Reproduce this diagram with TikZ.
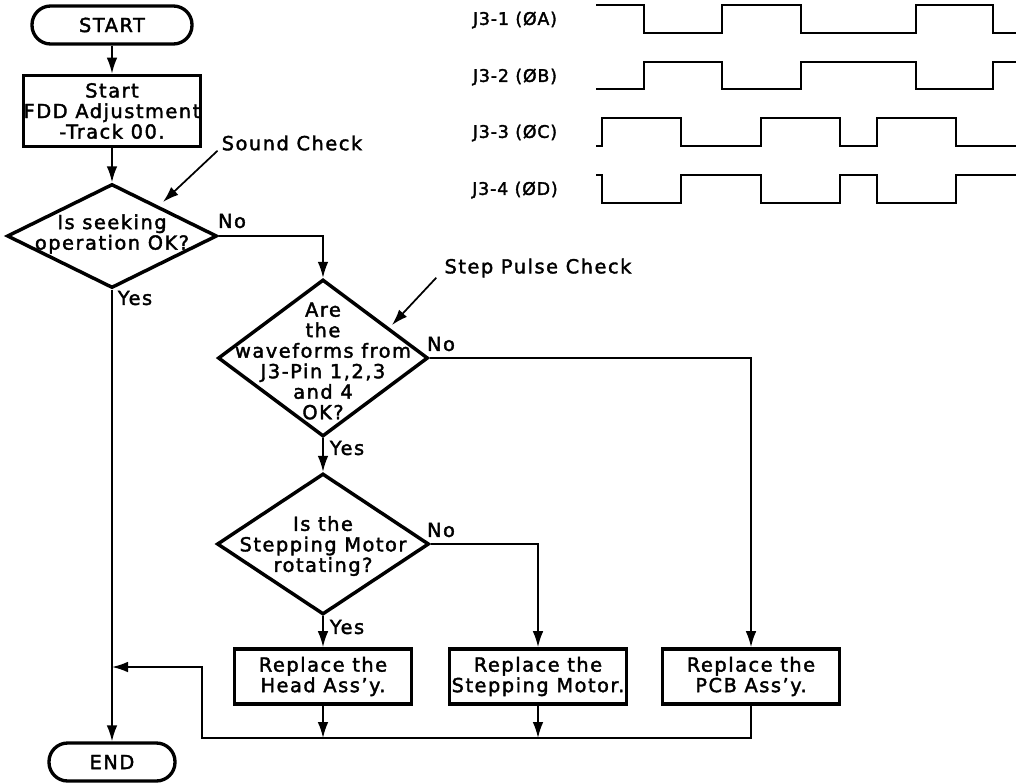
\documentclass[tikz,border=0pt]{standalone}
\usepackage{fontspec}
\setmainfont{DejaVu Sans}[LetterSpace=8, FakeBold=2]
\newfontfamily\wavefont{DejaVu Sans}[LetterSpace=5, FakeBold=2]
\usetikzlibrary{shapes.geometric,arrows.meta}

\begin{document}
\begin{tikzpicture}[x=0.75pt, y=-0.75pt,
    font=\fontsize{14.5}{15.4}\selectfont,
    term/.style={draw, line width=2.5pt, rounded corners=14pt, minimum height=28.5pt, inner sep=0pt},
    procbox/.style={draw, line width=2.8pt, minimum width=132.75pt, align=center, inner sep=0pt},
    decision/.style={draw, diamond, line width=2.6pt, inner sep=0pt},
    dtext/.style={align=center, inner sep=0pt},
    flow/.style={line width=1.3pt, -{Latex[length=12pt,width=8pt]}},
    lbl/.style={inner sep=0pt},
    wave/.style={line width=1.1pt},
    wlbl/.style={inner sep=0pt, font=\wavefont\fontsize{13}{14}\selectfont}]
      \useasboundingbox (0,0) rectangle (1016,782);

      % flow chart
      \node (START) at (112,25) [term, minimum width=120pt] {START};
      \node (FDD) at (112,111) [procbox, minimum height=53.25pt] {Start\\FDD Adjustment\\-Track 00.};
      \node (Q1) at (112,236) [decision, minimum width=157.5pt, minimum height=78pt] {};
      \node (Q1t) at (112,234) [dtext] {Is seeking\\operation OK?};
      \node (Q2) at (323,358) [decision, minimum width=157.5pt, minimum height=117.75pt] {};
      \node (Q2t) at (323,361) [dtext] {Are\\the\\waveforms from\\J3-Pin 1,2,3\\and 4\\OK?};
      \node (Q3) at (323,544) [decision, minimum width=159pt, minimum height=105.75pt] {};
      \node (Q3t) at (323,546) [dtext] {Is the\\Stepping Motor\\rotating?};
      \node (HEAD) at (323,676.5) [procbox, minimum height=41.25pt] {Replace the\\Head Ass'y.};
      \node (MOTOR) at (538,676.5) [procbox, minimum height=41.25pt] {Replace the\\Stepping Motor.};
      \node (PCB) at (751,676.5) [procbox, minimum height=41.25pt] {Replace the\\PCB Ass'y.};
      \node (END) at (112,762) [term, minimum width=94.5pt] {END};

      \node (snd) at (292,143) [lbl] {Sound Check};
      \node (spc) at (538,268) [lbl] {Step Pulse Check};
      \coordinate (sndTip) at (163,202);
      \coordinate (spcTip) at (392,325);

      \draw (232,221) node[lbl] (no1) {No};
      \draw (135,298) node[lbl] (yes1) {Yes};
      \draw (441,344) node[lbl] (no2) {No};
      \draw (347,448) node[lbl] (yes2) {Yes};
      \draw (441,530) node[lbl] (no3) {No};
      \draw (347,627) node[lbl] (yes3) {Yes};

      \coordinate (join) at (112,667);
      \coordinate (busL) at (202,738);

      \draw[flow] (START) to (FDD);
      \draw[flow] (FDD) to (Q1);
      \draw[flow] (Q1.south) to (END.north);
      \draw[flow] (Q1.east) -| (Q2.north);
      \draw[flow] (Q2.south) to (Q3.north);
      \draw[flow] (Q2.east) -| (PCB.north);
      \draw[flow] (Q3.south) to (HEAD.north);
      \draw[flow] (Q3.east) -| (MOTOR.north);
      \draw[flow] (HEAD.south) to (HEAD.south |- busL);
      \draw[flow] (MOTOR.south) to (MOTOR.south |- busL);
      \draw[flow] (PCB.south) |- (busL) |- (join);
      \draw[flow] ([xshift=-3pt]snd.south west) to (sndTip);
      \draw[flow] ([xshift=-6pt]spc.south west) to (spcTip);

      % waveforms
      \node (w1) at (515,20) [wlbl] {J3-1 (ØA)};
      \node (w2) at (515,77) [wlbl] {J3-2 (ØB)};
      \node (w3) at (515,133) [wlbl] {J3-3 (ØC)};
      \node (w4) at (515,190) [wlbl] {J3-4 (ØD)};
      \draw[wave] (596,5) -- (644,5) -- (644,33) -- (722,33) -- (722,5) -- (801,5) -- (801,33)
        -- (916,33) -- (916,5) -- (993,5) -- (993,33) -- (1016,33);
      \draw[wave] (596,89) -- (644,89) -- (644,62) -- (722,62) -- (722,89) -- (801,89) -- (801,62)
        -- (916,62) -- (916,89) -- (993,89) -- (993,62) -- (1016,62);
      \draw[wave] (596,146) -- (602,146) -- (602,118) -- (681,118) -- (681,146) -- (761,146) -- (761,118)
        -- (840,118) -- (840,146) -- (877,146) -- (877,118) -- (956,118) -- (956,146) -- (1016,146);
      \draw[wave] (596,175) -- (602,175) -- (602,203) -- (681,203) -- (681,175) -- (761,175) -- (761,203)
        -- (840,203) -- (840,175) -- (877,175) -- (877,203) -- (956,203) -- (956,175) -- (1016,175);

    \end{tikzpicture}
\end{document}
